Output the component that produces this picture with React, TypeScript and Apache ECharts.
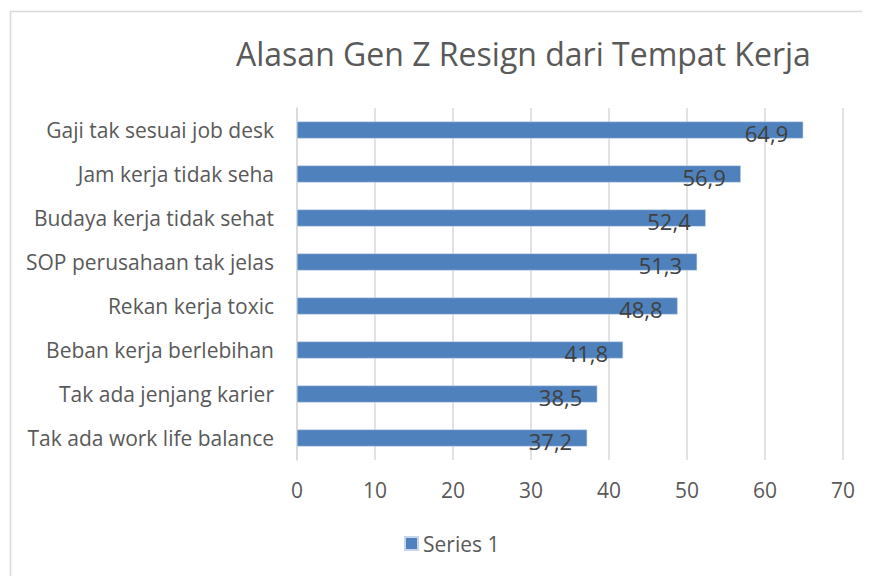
import React, { useEffect, useRef } from "react";
import * as echarts from "echarts";

const categories = [
  "Tak ada work life balance",
  "Tak ada jenjang karier",
  "Beban kerja berlebihan",
  "Rekan kerja toxic",
  "SOP perusahaan tak jelas",
  "Budaya kerja tidak sehat",
  "Jam kerja tidak seha",
  "Gaji tak sesuai job desk",
];
const values = [37.2, 38.5, 41.8, 48.8, 51.3, 52.4, 56.9, 64.9];
const seriesName = "Series 1";
const titleText = "Alasan Gen Z Resign dari Tempat Kerja";

const FONT = "'Open Sans', sans-serif";

export default function App() {
  const ref = useRef<HTMLDivElement>(null);
  useEffect(() => {
    const chart = echarts.init(ref.current!, null, { renderer: "svg" });
    chart.setOption({
      animation: false,
      backgroundColor: "#ffffff",
      title: {
        text: titleText,
        left: 231,
        top: 32,
        textStyle: { fontFamily: FONT, fontSize: 32, fontWeight: "normal", color: "#595959" },
      },
      legend: {
        data: [seriesName],
        bottom: 17,
        left: 399,
        icon: "rect",
        itemWidth: 13,
        itemHeight: 13,
        itemGap: 4,
        textStyle: { fontFamily: FONT, fontSize: 21, color: "#595959" },
      },
      grid: { left: 297, right: 27, top: 108, bottom: 116, containLabel: false },
      xAxis: {
        type: "value",
        min: 0,
        max: 70,
        interval: 10,
        axisLine: { show: false },
        axisTick: { show: false },
        splitLine: { lineStyle: { color: "#d9d9d9", width: 1.5 } },
        axisLabel: { fontFamily: FONT, fontSize: 21, color: "#595959", margin: 19 },
      },
      yAxis: {
        type: "category",
        data: categories,
        axisLine: { show: true, lineStyle: { color: "#d9d9d9", width: 1.5 } },
        axisTick: { show: false },
        axisLabel: { fontFamily: FONT, fontSize: 21, color: "#595959", margin: 23, padding: [2, 0, 0, 0] },
      },
      series: [
        {
          name: seriesName,
          type: "bar",
          data: values,
          barWidth: 17,
          itemStyle: { color: "#4f81bd", borderColor: "#c5d6ec", borderWidth: 0.5 },
          label: {
            show: true,
            position: "insideRight",
            distance: 15,
            offset: [0, 3],
            formatter: (p: any) => String(p.value).replace(".", ","),
            fontFamily: FONT,
            fontSize: 22,
            color: "#404040",
          },
        },
      ],
      graphic: [
        { type: "line", shape: { x1: 10, y1: 11.5, x2: 862, y2: 11.5 }, style: { stroke: "#d9d9d9", lineWidth: 1.5 } },
        { type: "line", shape: { x1: 10.5, y1: 11, x2: 10.5, y2: 576 }, style: { stroke: "#d9d9d9", lineWidth: 1.5 } },
      ],
    });
    return () => chart.dispose();
  }, []);
  return (
    <div
      ref={ref}
      style={{ position: "fixed", left: 0, top: 0, width: 870, height: 576 }}
    />
  );
}
